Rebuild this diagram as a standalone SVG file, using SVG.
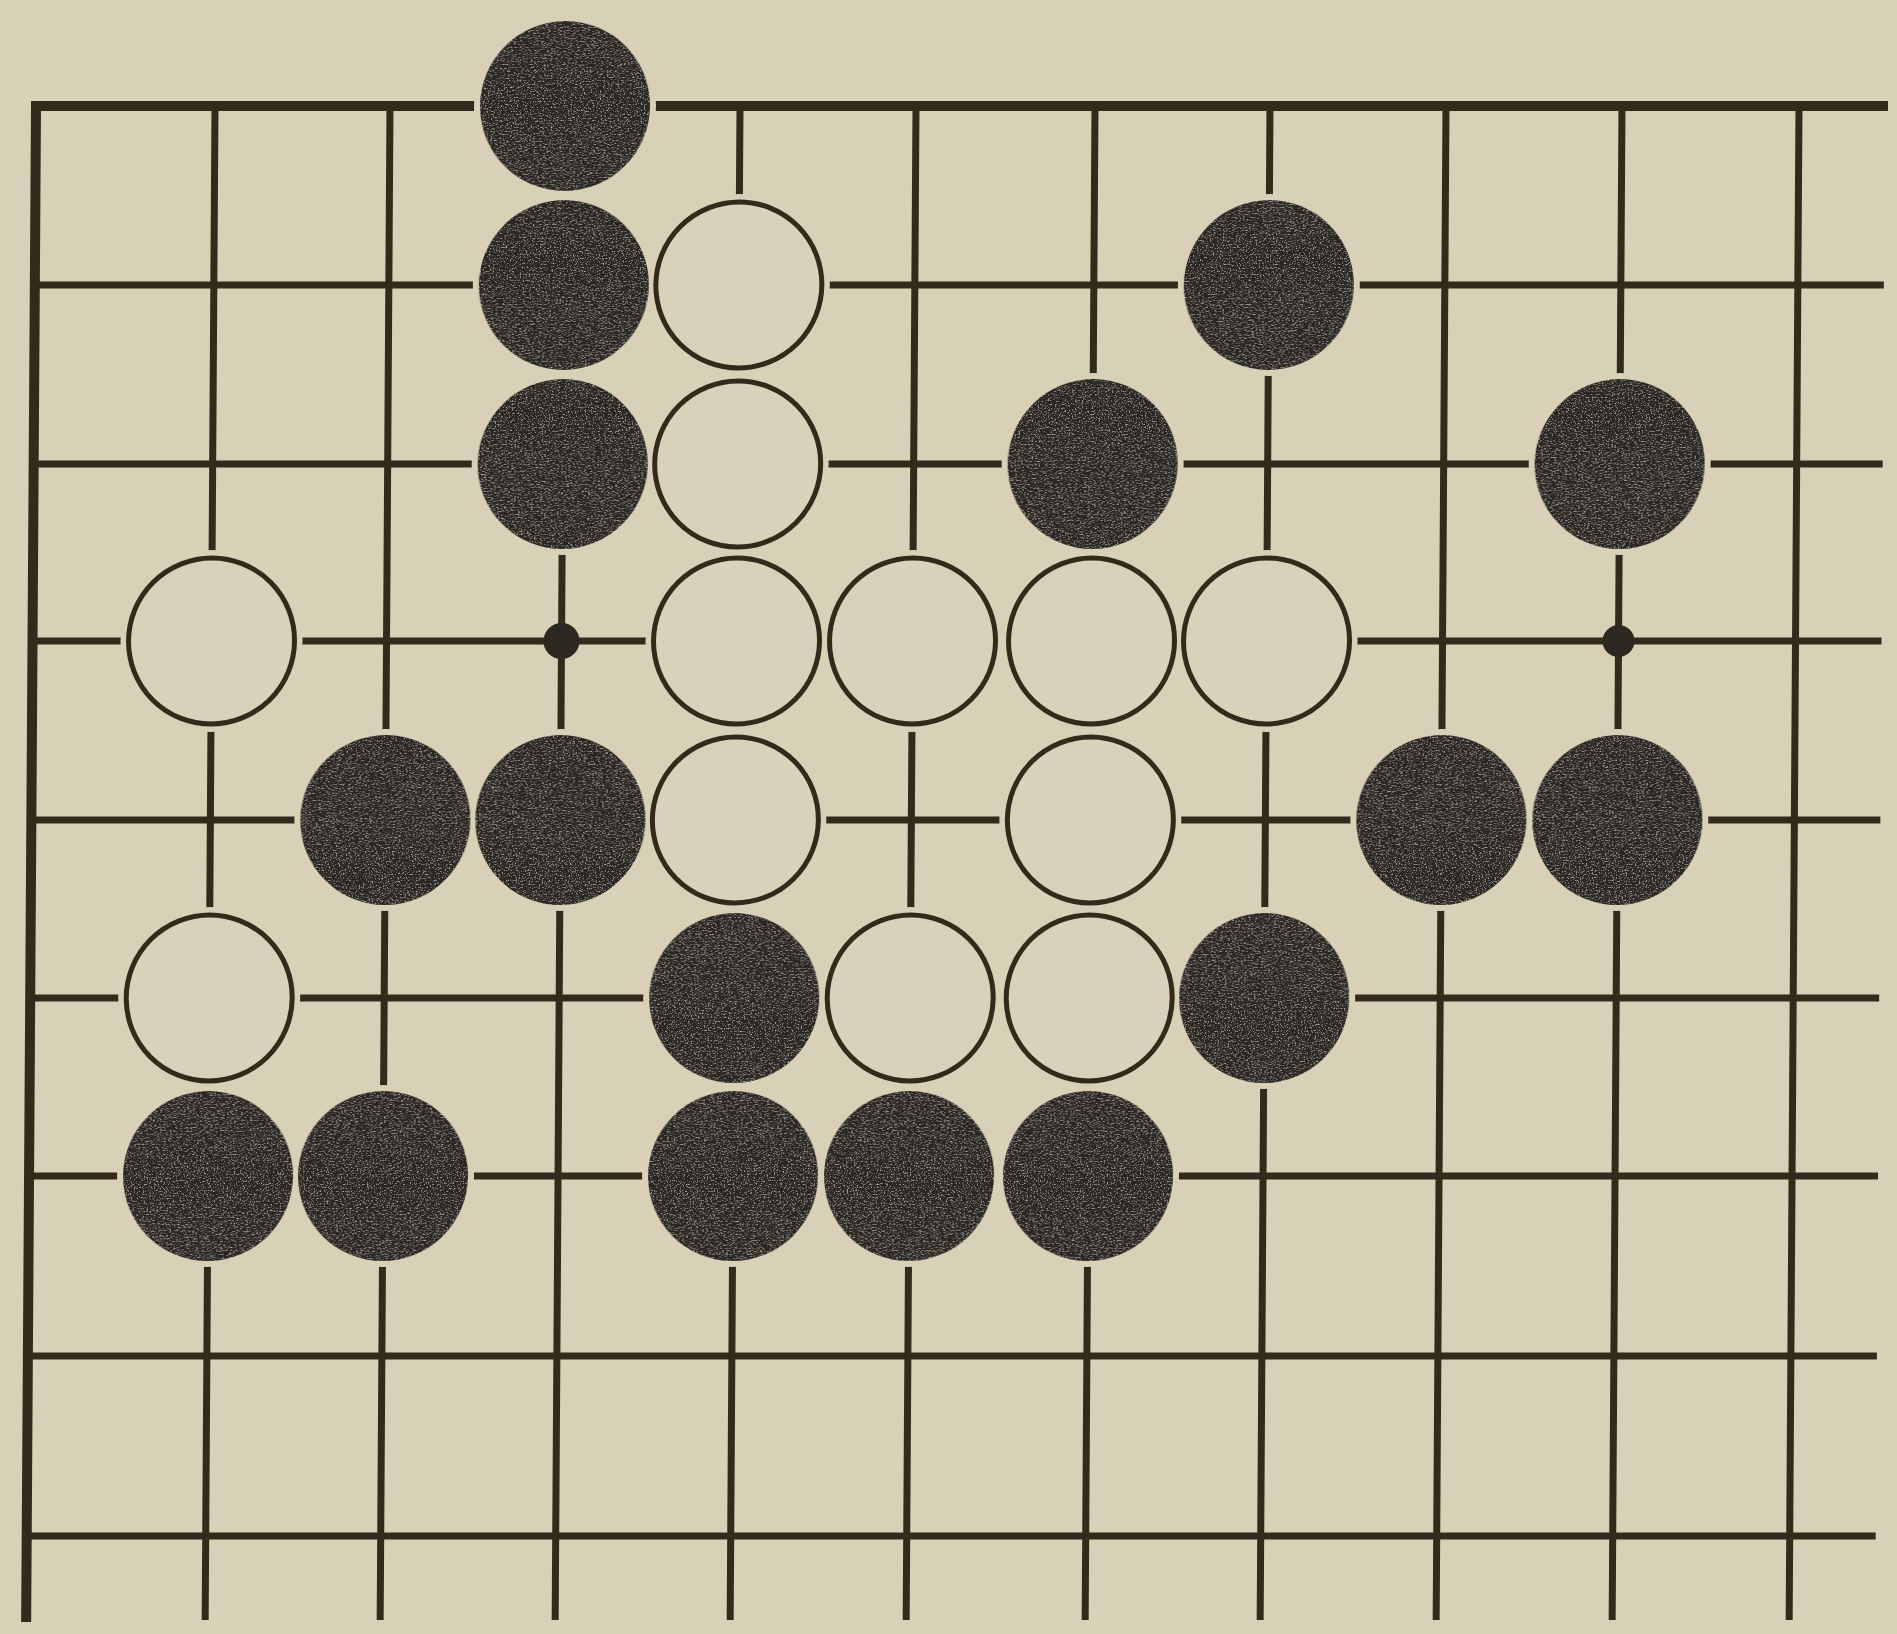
<svg xmlns="http://www.w3.org/2000/svg" width="1897" height="1634" viewBox="0 0 1897 1634">
<defs>
<style>
.ln{stroke:#342a1c;stroke-width:7;stroke-linecap:butt;fill:none}
.edge{stroke:#342a1c;stroke-width:10;fill:none}
.b{fill:#2c2822;filter:url(#speckle)}
.w{fill:#d9d1b9;stroke:#342a1c;stroke-width:5}
.dot{fill:#2c2822}
.halo{fill:#d8d0b7}
</style>
<filter id="speckle" x="0" y="0" width="1" height="1">
<feTurbulence type="fractalNoise" baseFrequency="0.7" numOctaves="2" seed="7" result="n"/>
<feColorMatrix in="n" type="matrix" values="0 0 0 0 0.6 0 0 0 0 0.58 0 0 0 0 0.52 0 0 0 2.6 -1.45" result="s"/>
<feComposite in="s" in2="SourceGraphic" operator="in" result="sp"/>
<feMerge><feMergeNode in="SourceGraphic"/><feMergeNode in="sp"/></feMerge>
</filter>
</defs>
<rect width="1897" height="1634" fill="#d8d0b7"/>
<g transform="matrix(1,0,-0.0065,1,0.69,0)">
<g id="connectors">
<line class="edge" x1="36" y1="106" x2="1888" y2="106"/>
<line class="edge" x1="36" y1="101" x2="36" y2="1622"/>
<line class="ln" x1="36" y1="285" x2="1885" y2="285"/>
<line class="ln" x1="36" y1="464" x2="1885" y2="464"/>
<line class="ln" x1="36" y1="641" x2="1885" y2="641"/>
<line class="ln" x1="36" y1="820" x2="1885" y2="820"/>
<line class="ln" x1="36" y1="998" x2="1885" y2="998"/>
<line class="ln" x1="36" y1="1176" x2="1885" y2="1176"/>
<line class="ln" x1="36" y1="1356" x2="1885" y2="1356"/>
<line class="ln" x1="36" y1="1536" x2="1885" y2="1536"/>
<line class="ln" x1="215" y1="106" x2="215" y2="1620"/>
<line class="ln" x1="390" y1="106" x2="390" y2="1620"/>
<line class="ln" x1="565" y1="106" x2="565" y2="1620"/>
<line class="ln" x1="740" y1="106" x2="740" y2="1620"/>
<line class="ln" x1="916" y1="106" x2="916" y2="1620"/>
<line class="ln" x1="1095" y1="106" x2="1095" y2="1620"/>
<line class="ln" x1="1270" y1="106" x2="1270" y2="1620"/>
<line class="ln" x1="1446" y1="106" x2="1446" y2="1620"/>
<line class="ln" x1="1622" y1="106" x2="1622" y2="1620"/>
<line class="ln" x1="1799" y1="106" x2="1799" y2="1620"/>
</g>
<g id="halos">
<circle class="halo" cx="565" cy="106" r="91"/>
<circle class="halo" cx="565" cy="285" r="91"/>
<circle class="halo" cx="565" cy="464" r="91"/>
<circle class="halo" cx="1270" cy="285" r="91"/>
<circle class="halo" cx="1095" cy="464" r="91"/>
<circle class="halo" cx="1622" cy="464" r="91"/>
<circle class="halo" cx="390" cy="820" r="91"/>
<circle class="halo" cx="565" cy="820" r="91"/>
<circle class="halo" cx="1446" cy="820" r="91"/>
<circle class="halo" cx="1622" cy="820" r="91"/>
<circle class="halo" cx="740" cy="998" r="91"/>
<circle class="halo" cx="1270" cy="998" r="91"/>
<circle class="halo" cx="215" cy="1176" r="91"/>
<circle class="halo" cx="390" cy="1176" r="91"/>
<circle class="halo" cx="740" cy="1176" r="91"/>
<circle class="halo" cx="916" cy="1176" r="91"/>
<circle class="halo" cx="1095" cy="1176" r="91"/>
<circle class="halo" cx="740" cy="285" r="91"/>
<circle class="halo" cx="740" cy="464" r="91"/>
<circle class="halo" cx="215" cy="641" r="91"/>
<circle class="halo" cx="740" cy="641" r="91"/>
<circle class="halo" cx="916" cy="641" r="91"/>
<circle class="halo" cx="1095" cy="641" r="91"/>
<circle class="halo" cx="1270" cy="641" r="91"/>
<circle class="halo" cx="740" cy="820" r="91"/>
<circle class="halo" cx="1095" cy="820" r="91"/>
<circle class="halo" cx="215" cy="998" r="91"/>
<circle class="halo" cx="916" cy="998" r="91"/>
<circle class="halo" cx="1095" cy="998" r="91"/>
</g>
<g id="star1"><circle class="dot" cx="565" cy="641" r="18"/></g>
<g id="star2"><circle class="dot" cx="1622" cy="641" r="16"/></g>
<g id="b1"><circle class="b" cx="565" cy="106" r="85"/></g>
<g id="b2"><circle class="b" cx="565" cy="285" r="85"/></g>
<g id="b3"><circle class="b" cx="565" cy="464" r="85"/></g>
<g id="b4"><circle class="b" cx="1270" cy="285" r="85"/></g>
<g id="b5"><circle class="b" cx="1095" cy="464" r="85"/></g>
<g id="b6"><circle class="b" cx="1622" cy="464" r="85"/></g>
<g id="b7"><circle class="b" cx="390" cy="820" r="85"/></g>
<g id="b8"><circle class="b" cx="565" cy="820" r="85"/></g>
<g id="b9"><circle class="b" cx="1446" cy="820" r="85"/></g>
<g id="b10"><circle class="b" cx="1622" cy="820" r="85"/></g>
<g id="b11"><circle class="b" cx="740" cy="998" r="85"/></g>
<g id="b12"><circle class="b" cx="1270" cy="998" r="85"/></g>
<g id="b13"><circle class="b" cx="215" cy="1176" r="85"/></g>
<g id="b14"><circle class="b" cx="390" cy="1176" r="85"/></g>
<g id="b15"><circle class="b" cx="740" cy="1176" r="85"/></g>
<g id="b16"><circle class="b" cx="916" cy="1176" r="85"/></g>
<g id="b17"><circle class="b" cx="1095" cy="1176" r="85"/></g>
<g id="w1"><circle class="w" cx="740" cy="285" r="83"/></g>
<g id="w2"><circle class="w" cx="740" cy="464" r="83"/></g>
<g id="w3"><circle class="w" cx="215" cy="641" r="83"/></g>
<g id="w4"><circle class="w" cx="740" cy="641" r="83"/></g>
<g id="w5"><circle class="w" cx="916" cy="641" r="83"/></g>
<g id="w6"><circle class="w" cx="1095" cy="641" r="83"/></g>
<g id="w7"><circle class="w" cx="1270" cy="641" r="83"/></g>
<g id="w8"><circle class="w" cx="740" cy="820" r="83"/></g>
<g id="w9"><circle class="w" cx="1095" cy="820" r="83"/></g>
<g id="w10"><circle class="w" cx="215" cy="998" r="83"/></g>
<g id="w11"><circle class="w" cx="916" cy="998" r="83"/></g>
<g id="w12"><circle class="w" cx="1095" cy="998" r="83"/></g>
</g>
</svg>
